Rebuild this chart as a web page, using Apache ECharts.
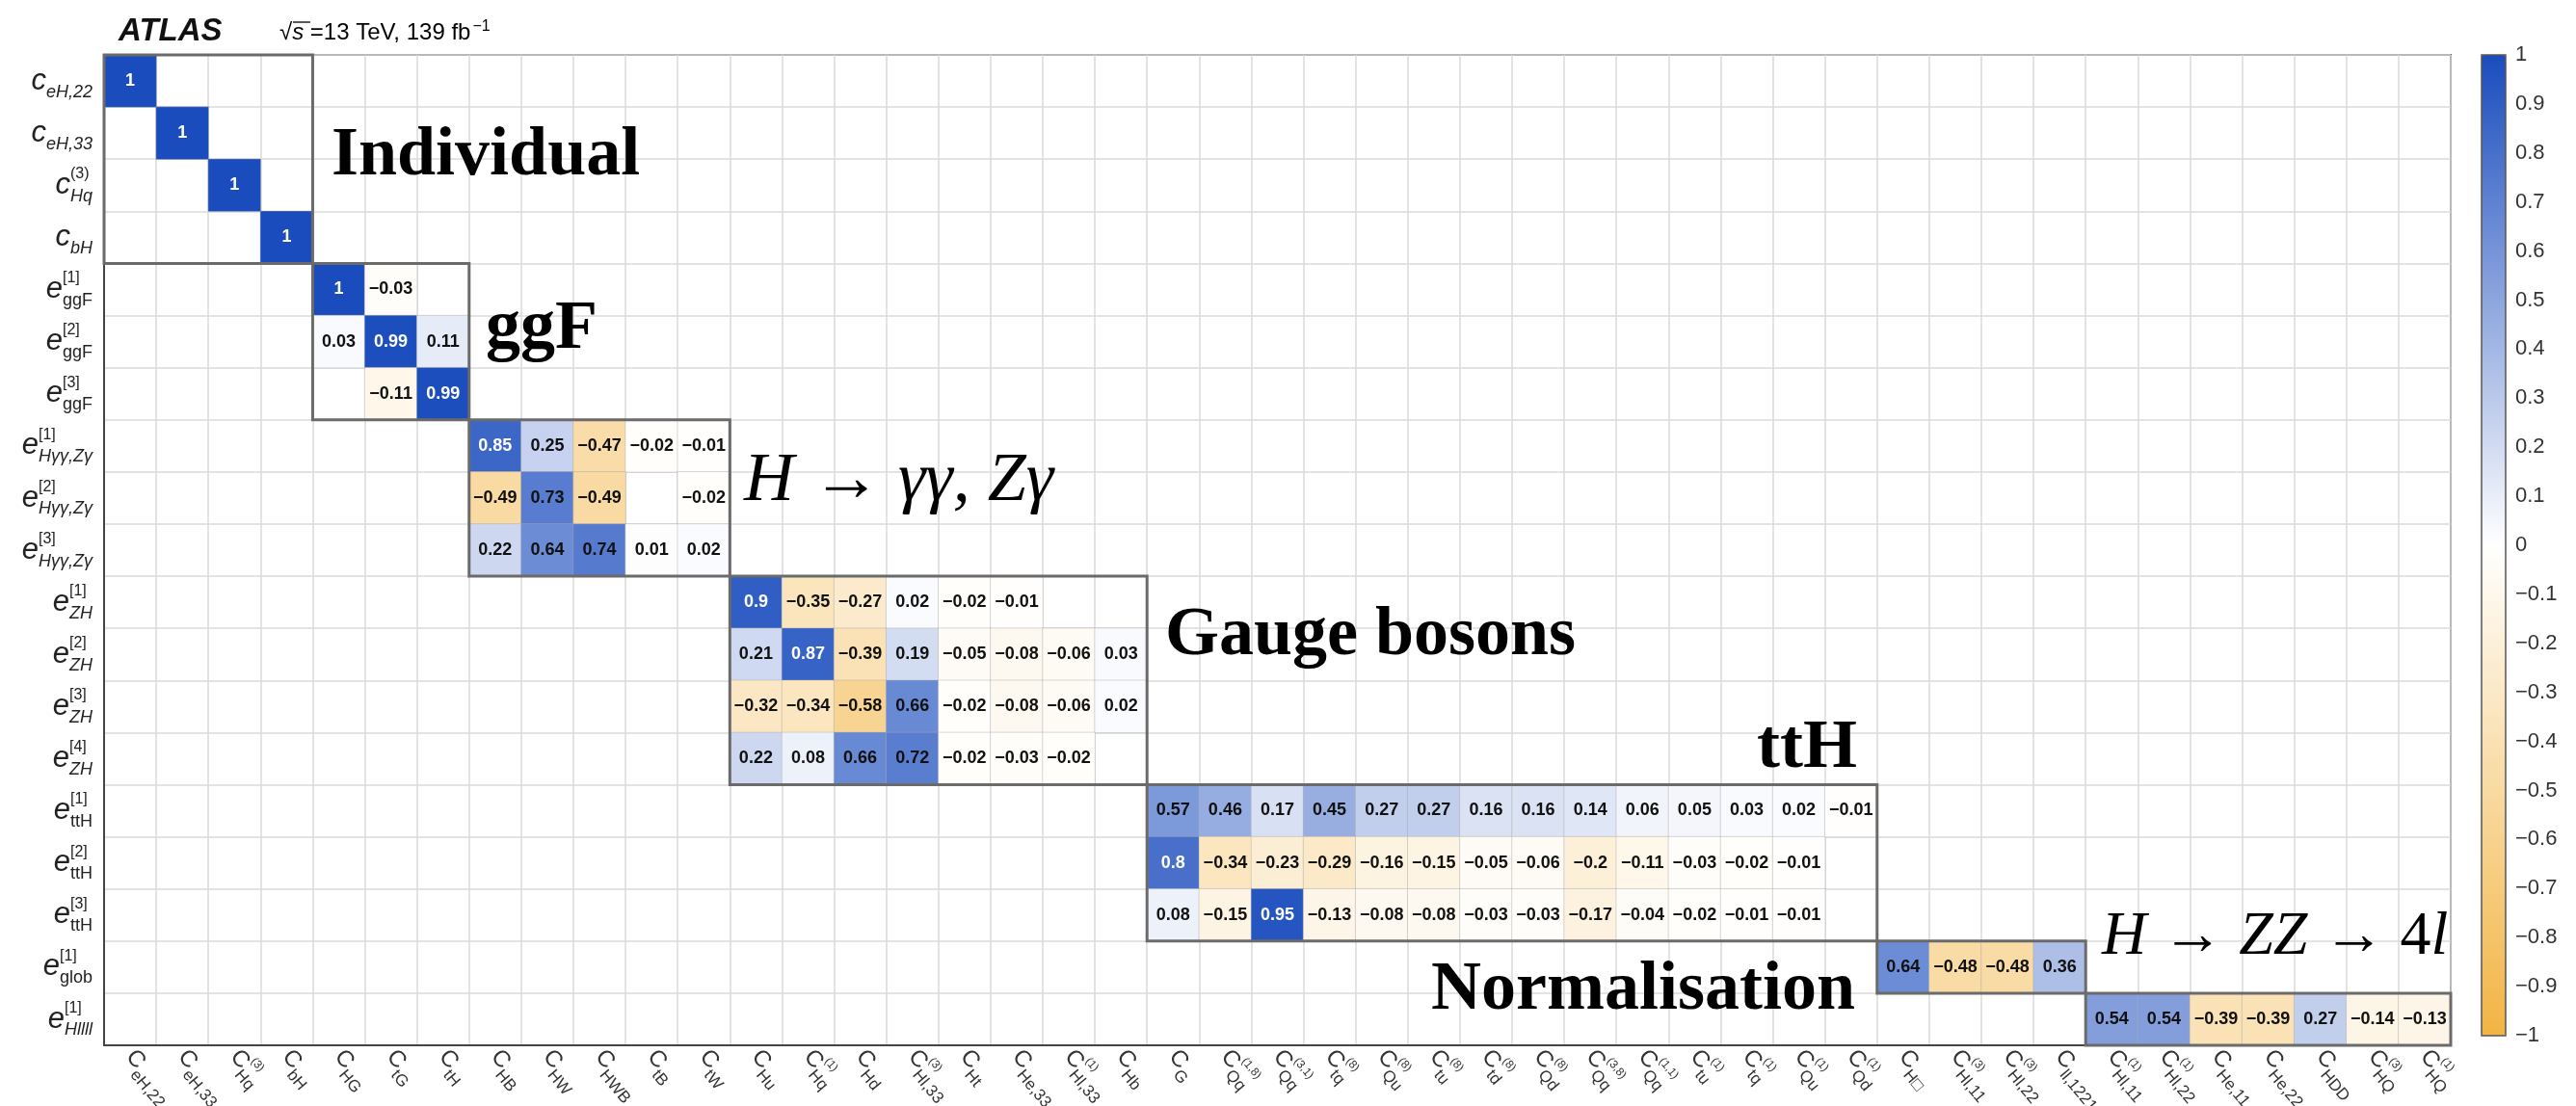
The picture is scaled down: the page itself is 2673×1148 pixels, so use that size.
<!DOCTYPE html>
<html>
<head>
<meta charset="utf-8">
<script src="https://cdn.jsdelivr.net/npm/echarts@6/dist/echarts.min.js"></script>
<style>
  html, body { margin: 0; padding: 0; background: #ffffff; }
  #chart { width: 2673px; height: 1148px; }
</style>
</head>
<body>
<div id="chart"></div>
<script>
// ---------- categories ----------
// x: Wilson coefficients  [base, subscript, superscript]
const xParts = [
  ['C', 'eH,22', ''], ['C', 'eH,33', ''], ['C', 'Hq', '(3)'], ['C', 'bH', ''],
  ['C', 'HG', ''], ['C', 'tG', ''], ['C', 'tH', ''],
  ['C', 'HB', ''], ['C', 'HW', ''], ['C', 'HWB', ''], ['C', 'tB', ''], ['C', 'tW', ''],
  ['C', 'Hu', ''], ['C', 'Hq', '(1)'], ['C', 'Hd', ''], ['C', 'Hl,33', '(3)'], ['C', 'Ht', ''],
  ['C', 'He,33', ''], ['C', 'Hl,33', '(1)'], ['C', 'Hb', ''],
  ['C', 'G', ''], ['C', 'Qq', '(1,8)'], ['C', 'Qq', '(3,1)'], ['C', 'tq', '(8)'], ['C', 'Qu', '(8)'],
  ['C', 'tu', '(8)'], ['C', 'td', '(8)'], ['C', 'Qd', '(8)'], ['C', 'Qq', '(3,8)'], ['C', 'Qq', '(1,1)'],
  ['C', 'tu', '(1)'], ['C', 'tq', '(1)'], ['C', 'Qu', '(1)'], ['C', 'Qd', '(1)'],
  ['C', 'H\u25A1', ''], ['C', 'Hl,11', '(3)'], ['C', 'Hl,22', '(3)'], ['C', 'll,1221', ''],
  ['C', 'Hl,11', '(1)'], ['C', 'Hl,22', '(1)'], ['C', 'He,11', ''], ['C', 'He,22', ''],
  ['C', 'HDD', ''], ['C', 'HQ', '(3)'], ['C', 'HQ', '(1)']
];
// y: eigenvector directions  [base, subscript, superscript, upright subscript]
const yParts = [
  ['c', 'eH,22', '', false], ['c', 'eH,33', '', false], ['c', 'Hq', '(3)', false], ['c', 'bH', '', false],
  ['e', 'ggF', '[1]', true], ['e', 'ggF', '[2]', true], ['e', 'ggF', '[3]', true],
  ['e', 'H\u03B3\u03B3,Z\u03B3', '[1]', false], ['e', 'H\u03B3\u03B3,Z\u03B3', '[2]', false], ['e', 'H\u03B3\u03B3,Z\u03B3', '[3]', false],
  ['e', 'ZH', '[1]', false], ['e', 'ZH', '[2]', false], ['e', 'ZH', '[3]', false], ['e', 'ZH', '[4]', false],
  ['e', 'ttH', '[1]', true], ['e', 'ttH', '[2]', true], ['e', 'ttH', '[3]', true],
  ['e', 'glob', '[1]', true], ['e', 'Hllll', '[1]', false]
];

// ---------- correlation values per block (null = not shown) ----------
const valsIndividual = [
  [1, null, null, null],
  [null, 1, null, null],
  [null, null, 1, null],
  [null, null, null, 1]
];
const valsGgF = [
  [1, -0.03, null],
  [0.03, 0.99, 0.11],
  [null, -0.11, 0.99]
];
const valsHyy = [
  [0.85, 0.25, -0.47, -0.02, -0.01],
  [-0.49, 0.73, -0.49, null, -0.02],
  [0.22, 0.64, 0.74, 0.01, 0.02]
];
const valsZH = [
  [0.9, -0.35, -0.27, 0.02, -0.02, -0.01, null, null],
  [0.21, 0.87, -0.39, 0.19, -0.05, -0.08, -0.06, 0.03],
  [-0.32, -0.34, -0.58, 0.66, -0.02, -0.08, -0.06, 0.02],
  [0.22, 0.08, 0.66, 0.72, -0.02, -0.03, -0.02, null]
];
const valsTtH = [
  [0.57, 0.46, 0.17, 0.45, 0.27, 0.27, 0.16, 0.16, 0.14, 0.06, 0.05, 0.03, 0.02, -0.01],
  [0.8, -0.34, -0.23, -0.29, -0.16, -0.15, -0.05, -0.06, -0.2, -0.11, -0.03, -0.02, -0.01, null],
  [0.08, -0.15, 0.95, -0.13, -0.08, -0.08, -0.03, -0.03, -0.17, -0.04, -0.02, -0.01, -0.01, null]
];
const valsGlob = [[0.64, -0.48, -0.48, 0.36]];
const valsH4l = [[0.54, 0.54, -0.39, -0.39, 0.27, -0.14, -0.13]];

// block origins: [first column, first row]
const blockOrigins = [[0, 0], [4, 4], [7, 7], [12, 10], [20, 14], [34, 17], [38, 18]];
const blockValues = [valsIndividual, valsGgF, valsHyy, valsZH, valsTtH, valsGlob, valsH4l];

// colour-bar tick labels
const scaleMin = -1, scaleMax = 1, scaleStep = 0.1;

// ---------- build series data ----------
const cells = [];
const blocks = [];
blockValues.forEach((vals, b) => {
  const [c0, r0] = blockOrigins[b];
  blocks.push([c0, r0, vals[0].length, vals.length]);
  vals.forEach((row, i) => row.forEach((v, j) => {
    if (v === null) return;
    cells.push({
      value: [c0 + j, r0 + i, v],
      label: { color: v >= 0.75 ? '#ffffff' : '#111111' }
    });
  }));
});

// ---------- label typography ----------
const ctx = document.createElement('canvas').getContext('2d');
function tw(text, font) { ctx.font = font; return ctx.measureText(text).width; }

const FAM = '"Liberation Sans", Arial, sans-serif';
const Y_BASE = 31, Y_SUB = 18, Y_SUP = 16;
const X_BASE = 24, X_SUB = 17, X_SUP = 12;

const yRich = {
  yb: { fontFamily: FAM, fontStyle: 'italic', fontSize: Y_BASE, color: '#222', lineHeight: 14, align: 'right' },
  ys: { fontFamily: FAM, fontStyle: 'italic', fontSize: Y_SUB, color: '#222', lineHeight: 9, align: 'right' },
  yu: { fontFamily: FAM, fontSize: Y_SUB, color: '#222', lineHeight: 9, align: 'right' },
  yp: { fontFamily: FAM, fontSize: Y_SUP, color: '#222', lineHeight: 9, align: 'right' }
};
const yText = yParts.map((p, i) => {
  const [b, sub, sup, up] = p;
  const sw = tw(sub, (up ? '' : 'italic ') + Y_SUB + 'px ' + FAM);
  const pw = sup ? tw(sup, Y_SUP + 'px ' + FAM) : 0;
  const m = Math.max(sw, pw);
  yRich['ya' + i] = { width: m - pw, lineHeight: 9, align: 'right' };
  yRich['yc' + i] = { width: m, lineHeight: 14, align: 'right' };
  yRich['yd' + i] = { width: m - sw, lineHeight: 9, align: 'right' };
  const l1 = (sup ? '{yp|' + sup + '}' : '') + '{ya' + i + '|}';
  const l2 = '{yb|' + b + '}{yc' + i + '|}';
  const l3 = '{' + (up ? 'yu' : 'ys') + '|' + sub + '}{yd' + i + '|}';
  return l1 + '\n' + l2 + '\n' + l3;
});

const cW = tw('C', X_BASE + 'px ' + FAM);
const xRich = {
  xb: { fontFamily: FAM, fontSize: X_BASE, color: '#333', lineHeight: 13 },
  xs: { fontFamily: FAM, fontSize: X_SUB, color: '#333', lineHeight: 8 },
  xp: { fontFamily: FAM, fontSize: X_SUP, color: '#333', lineHeight: 8 },
  xg: { width: cW, lineHeight: 8 }
};
const xText = xParts.map(p => {
  const [b, sub, sup] = p;
  return '{xg|}' + (sup ? '{xp|' + sup + '}' : '') + '\n{xb|' + b + '}\n{xg|}{xs|' + sub + '}';
});

function fmtVal(v) {
  return String(v).replace('-', '\u2212');
}

// ---------- layout ----------
const G = { left: 108, top: 57, width: 2435, height: 1028 };
const CB = { left: 2575, top: 57, width: 25, height: 1018 };
const SERIF = '"Liberation Serif", "Times New Roman", serif';

const chart = echarts.init(document.getElementById('chart'), null, { renderer: 'canvas' });

chart.setOption({
  backgroundColor: '#ffffff',
  animation: false,
  grid: [
    { left: G.left, top: G.top, width: G.width, height: G.height, show: true,
      containLabel: false, outerBoundsMode: 'none',
      borderColor: '#555', borderWidth: 2, backgroundColor: '#ffffff' },
    { left: CB.left, top: CB.top, width: CB.width, height: CB.height, show: false,
      containLabel: false, outerBoundsMode: 'none' }
  ],
  xAxis: [
    {
      type: 'category', gridIndex: 0,
      data: xParts.map((p, i) => String(i)),
      axisLine: { show: true, lineStyle: { color: '#444', width: 2 } },
      axisTick: { show: false },
      splitLine: { show: true, lineStyle: { color: '#dadada', width: 1.5 } },
      axisLabel: {
        interval: 0, rotate: -50, margin: 8,
        formatter: (v, i) => xText[i], rich: xRich
      }
    },
    { type: 'category', gridIndex: 1, data: ['c'], show: false }
  ],
  yAxis: [
    {
      type: 'category', gridIndex: 0, inverse: true,
      data: yParts.map((p, i) => String(i)),
      axisLine: { show: true, lineStyle: { color: '#444', width: 2 } },
      axisTick: { show: false },
      splitLine: { show: true, lineStyle: { color: '#dadada', width: 1.5 } },
      axisLabel: {
        interval: 0, margin: 12,
        formatter: (v, i) => yText[i], rich: yRich
      }
    },
    {
      type: 'value', gridIndex: 1, position: 'right',
      min: scaleMin, max: scaleMax, interval: scaleStep,
      axisLine: { show: false }, axisTick: { show: false }, splitLine: { show: false },
      axisLabel: {
        margin: 10, fontSize: 22, color: '#333', fontFamily: FAM,
        formatter: v => {
          const r = Math.round(v * 10) / 10;
          if (Math.abs(r) < 1e-9) return '0';
          return (r < 0 ? '\u2212' : '') + String(Math.abs(r));
        }
      }
    }
  ],
  visualMap: {
    type: 'continuous', seriesIndex: 0,
    min: scaleMin, max: scaleMax,
    left: CB.left, top: CB.top, itemWidth: CB.width, itemHeight: CB.height,
    padding: 0, calculable: false, hoverLink: false, text: null, showLabel: false,
    inRange: { color: ['#f2b443', '#ffffff', '#1a4cbd'] }
  },
  series: [
    {
      type: 'heatmap', xAxisIndex: 0, yAxisIndex: 0,
      data: cells,
      itemStyle: { borderColor: 'rgba(170,170,170,0.45)', borderWidth: 1 },
      label: {
        show: true, fontSize: 18, fontWeight: 'bold', fontFamily: FAM,
        formatter: p => fmtVal(p.value[2])
      },
      emphasis: { disabled: true }
    },
    {
      type: 'custom', xAxisIndex: 0, yAxisIndex: 0, z: 5, silent: true,
      data: blocks,
      renderItem: (params, api) => {
        const p = api.coord([api.value(0), api.value(1)]);
        const s = api.size([1, 1]);
        return {
          type: 'rect',
          shape: { x: p[0] - s[0] / 2, y: p[1] - s[1] / 2, width: api.value(2) * s[0], height: api.value(3) * s[1] },
          style: { fill: 'none', stroke: '#6b6b6b', lineWidth: 3 }
        };
      }
    },
    { type: 'line', xAxisIndex: 1, yAxisIndex: 1, data: [] }
  ],
  graphic: [
    // colour bar frame
    { type: 'rect', z: 10, silent: true,
      shape: { x: CB.left, y: CB.top, width: CB.width, height: CB.height },
      style: { fill: 'none', stroke: '#555', lineWidth: 1.5 } },
    // header
    { type: 'text', z: 10, x: 123, y: 33,
      style: { text: 'ATLAS', font: 'italic bold 33px ' + FAM, fill: '#111', textVerticalAlign: 'middle' } },
    { type: 'text', z: 10, x: 290, y: 34,
      style: {
        text: '{r|\u221A}{s|s}{t| =13 TeV, 139 fb}{u|\u22121}',
        textVerticalAlign: 'middle',
        rich: {
          r: { fontFamily: FAM, fontSize: 24, color: '#222' },
          s: { fontFamily: FAM, fontStyle: 'italic', fontSize: 24, color: '#222' },
          t: { fontFamily: FAM, fontSize: 24, color: '#222' },
          u: { fontFamily: FAM, fontSize: 16, color: '#222', padding: [0, 0, 12, 2] }
        }
      } },
    { type: 'line', z: 10, shape: { x1: 304, y1: 23, x2: 322, y2: 23 }, style: { stroke: '#222', lineWidth: 1.5 } },
    // group captions
    { type: 'text', z: 10, x: 344, y: 162,
      style: { text: 'Individual', font: 'bold 72px ' + SERIF, fill: '#000', textVerticalAlign: 'middle' } },
    { type: 'text', z: 10, x: 504, y: 342,
      style: { text: 'ggF', font: 'bold 72px ' + SERIF, fill: '#000', textVerticalAlign: 'middle' } },
    { type: 'text', z: 10, x: 772, y: 500,
      style: {
        text: '{i|H}{n| \u2192 }{i|\u03B3\u03B3, Z\u03B3}', textVerticalAlign: 'middle',
        rich: {
          i: { fontFamily: SERIF, fontStyle: 'italic', fontSize: 72, color: '#000' },
          n: { fontFamily: SERIF, fontSize: 72, color: '#000' }
        }
      } },
    { type: 'text', z: 10, x: 1209, y: 660,
      style: { text: 'Gauge bosons', font: 'bold 72px ' + SERIF, fill: '#000', textVerticalAlign: 'middle' } },
    { type: 'text', z: 10, x: 1823, y: 777,
      style: { text: 'ttH', font: 'bold 72px ' + SERIF, fill: '#000', textVerticalAlign: 'middle' } },
    { type: 'text', z: 10, x: 1485, y: 1028,
      style: { text: 'Normalisation', font: 'bold 72px ' + SERIF, fill: '#000', textVerticalAlign: 'middle' } },
    { type: 'text', z: 10, x: 2181, y: 973,
      style: {
        text: '{i|H}{n| \u2192 }{i|ZZ}{n| \u2192 4}{i|l}', textVerticalAlign: 'middle',
        rich: {
          i: { fontFamily: SERIF, fontStyle: 'italic', fontSize: 64, color: '#000' },
          n: { fontFamily: SERIF, fontSize: 64, color: '#000' }
        }
      } }
  ]
});
</script>
</body>
</html>
